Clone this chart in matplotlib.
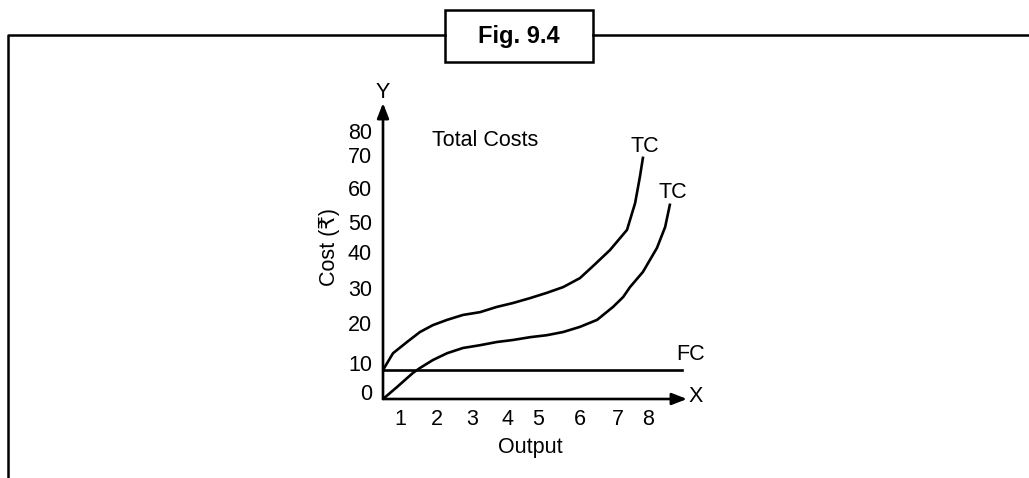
import numpy as np
import matplotlib
matplotlib.use("Agg")
import matplotlib.pyplot as plt
import matplotlib.transforms as mtransforms

plt.rcParams['font.family'] = ['Liberation Sans', 'DejaVu Sans']

# ── Data ──────────────────────────────────────────────────────────────────────
output_ticks = [1, 2, 3, 4, 5, 6, 7, 8]
cost_ticks = [0, 10, 20, 30, 40, 50, 60, 70, 80]

tc_upper_x = [0, 0.59, 1.19, 1.54, 1.89, 2.29, 2.74, 3.23, 3.71, 4.19, 4.74, 5.21,
              5.6, 6.0, 6.37, 6.79, 7.3, 7.57, 7.73, 7.83]
tc_upper_y = [10, 14.2, 17.0, 19.5, 21.4, 22.9, 24.3, 25.1, 26.6, 27.7, 29.1, 30.6,
              32.2, 34.7, 38.3, 43.0, 49.7, 57.6, 65.5, 71.7]

tc_lower_x = [0, 0.82, 1.35, 1.54, 1.89, 2.29, 2.74, 3.23, 3.71, 4.19, 4.74, 5.21,
              5.6, 6.0, 6.45, 6.87, 7.17, 7.4, 7.83, 8.23, 8.44, 8.56]
tc_lower_y = [0, 4.1, 9.0, 10.5, 12.5, 14.2, 15.5, 16.2, 17.0, 17.5, 18.2, 18.7,
              19.5, 20.9, 22.9, 26.6, 29.4, 32.2, 36.4, 43.7, 50.6, 57.1]

fixed_cost = 10

# ── The printed axes are hand-drawn: tick spacing is uneven ───────────────────
W, H = 1029, 478
x_knots_val = [0, 1, 2, 3, 4, 5, 6, 7, 8, 9]
x_knots_px = [383, 400, 437, 472, 507, 538, 580, 618, 648, 687]
y_knots_val = [0, 10, 20, 30, 40, 50, 60, 70, 80, 90]
y_knots_px = [399, 370, 330, 295, 259, 229, 195, 162, 138, 103]
y_knots_up = [H - p for p in y_knots_px]


def px(x, y):
    return x / W, 1 - y / H


fig = plt.figure(figsize=(W / 100, H / 100), dpi=100)
ax = fig.add_axes([383 / W, (H - 399) / H, (687 - 383) / W, (399 - 103) / H])
ax.set_xscale('function', functions=(lambda v: np.interp(v, x_knots_val, x_knots_px),
                                     lambda p: np.interp(p, x_knots_px, x_knots_val)))
ax.set_yscale('function', functions=(lambda v: np.interp(v, y_knots_val, y_knots_up),
                                     lambda p: np.interp(p, y_knots_up, y_knots_val)))
ax.set_xlim(0, 9)
ax.set_ylim(0, 90)

lw = 1.9
ax.plot(tc_upper_x, tc_upper_y, color='black', lw=lw, solid_joinstyle='round')
ax.plot(tc_lower_x, tc_lower_y, color='black', lw=lw, solid_joinstyle='round')
ax.plot([0, 8.88], [fixed_cost, fixed_cost], color='black', lw=lw)

for s in ax.spines.values():
    s.set_visible(False)
ax.set_xticks(output_ticks)
ax.set_yticks(cost_ticks)
ax.tick_params(length=0, labelsize=15.5)
ax.tick_params(axis='x', pad=7)
ax.tick_params(axis='y', pad=8)
shift = mtransforms.ScaledTranslation(0, 7 / 100, fig.dpi_scale_trans)
for lab in ax.get_yticklabels():
    lab.set_transform(lab.get_transform() + shift)

# axis arrows
arrow = dict(arrowstyle='-|>,head_length=0.9,head_width=0.35', color='black', lw=1.9,
             shrinkA=0, shrinkB=0)
ax.annotate('', xy=(1, 0), xytext=(0, 0), xycoords='axes fraction', arrowprops=arrow,
            annotation_clip=False)
ax.annotate('', xy=(0, 1), xytext=(0, 0), xycoords='axes fraction', arrowprops=arrow,
            annotation_clip=False)

fs = 15.5
fig.text(*px(383, 93), 'Y', fontsize=fs, ha='center', va='center')
fig.text(*px(696, 396), 'X', fontsize=fs, ha='center', va='center')
fig.text(*px(485, 140), 'Total Costs', fontsize=fs, ha='center', va='center')
fig.text(*px(645, 147), 'TC', fontsize=fs, ha='center', va='center')
fig.text(*px(673, 193), 'TC', fontsize=fs, ha='center', va='center')
fig.text(*px(691, 355), 'FC', fontsize=fs, ha='center', va='center')
fig.text(*px(530, 448), 'Output', fontsize=fs, ha='center', va='center')
fig.text(*px(329, 247), 'Cost (₹)', fontsize=fs, ha='center', va='center', rotation=90)

# outer frame with the caption box
frame_lw = 1.8
fig.add_artist(plt.Line2D([8 / W, 8 / W, 445 / W], [0, 1 - 35 / H, 1 - 35 / H],
                          color='black', lw=frame_lw, transform=fig.transFigure))
fig.add_artist(plt.Line2D([593 / W, 1], [1 - 35 / H, 1 - 35 / H],
                          color='black', lw=frame_lw, transform=fig.transFigure))
fig.add_artist(plt.Rectangle(px(445, 62), 148 / W, 52 / H, fill=False, ec='black',
                             lw=frame_lw, transform=fig.transFigure))
fig.text(*px(519, 36), 'Fig. 9.4', fontsize=17, fontweight='bold', ha='center', va='center')

fig.savefig('out.png', dpi=100)
